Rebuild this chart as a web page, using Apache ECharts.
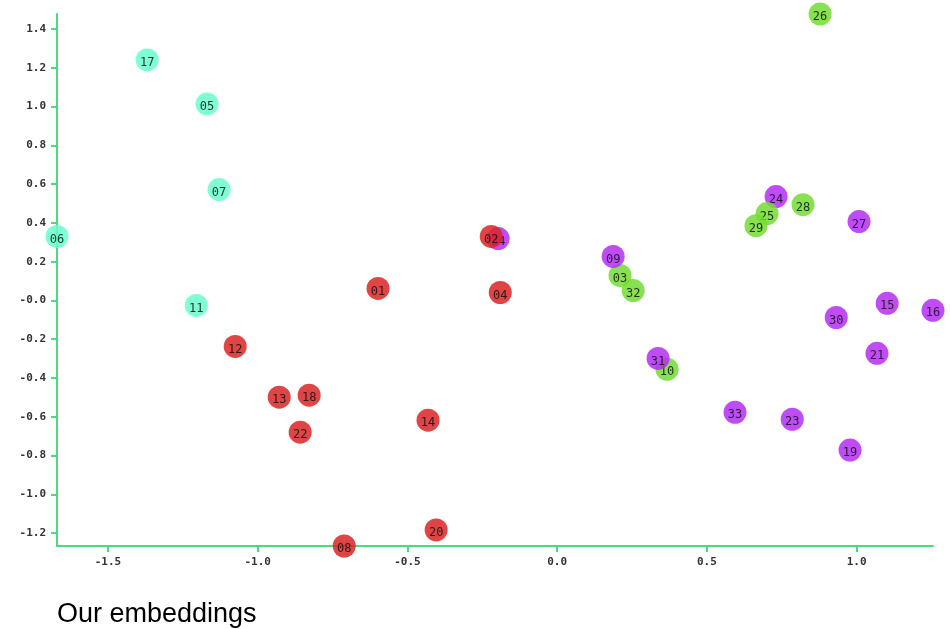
<!DOCTYPE html>
<html>
<head>
<meta charset="utf-8">
<title>Our embeddings</title>
<script src="https://cdn.jsdelivr.net/npm/echarts@6/dist/echarts.min.js"></script>
<style>
  html, body { margin: 0; padding: 0; background: #fff; }
  #chart { width: 950px; height: 629px; }
</style>
</head>
<body>
<div id="chart"></div>
<script>
// Node labels, listed in drawing order (later nodes are painted on top).
const nodeIds = ['34', '01', '02', '03', '04', '05', '06', '07', '08', '09', '10', '11',
  '12', '13', '14', '15', '16', '17', '18', '19', '20', '21', '22', '23', '24',
  '25', '26', '27', '28', '29', '30', '31', '32', '33'];

// 2-D embedding coordinates of each node.
const xValues = [-0.197, -0.598, -0.220, 0.210, -0.190, -1.169, -1.670, -1.129, -0.711, 0.187, 0.367, -1.205,
  -1.075, -0.928, -0.431, 1.102, 1.255, -1.369, -0.828, 0.978, -0.404, 1.068, -0.858, 0.785, 0.731,
  0.701, 0.878, 1.008, 0.821, 0.664, 0.932, 0.337, 0.254, 0.594];
const yValues = [0.319, 0.062, 0.330, 0.129, 0.041, 1.014, 0.330, 0.572, -1.267, 0.227, -0.355, -0.026,
  -0.237, -0.499, -0.618, -0.015, -0.051, 1.241, -0.489, -0.772, -1.184, -0.273, -0.680, -0.613, 0.536,
  0.448, 1.478, 0.407, 0.494, 0.386, -0.088, -0.299, 0.051, -0.577];

// Community of each node (index into communityColors).
const communities = [3, 1, 1, 2, 1, 0, 0, 0, 1, 3, 2, 0,
  1, 1, 1, 3, 3, 0, 1, 3, 1, 3, 1, 3, 3,
  2, 2, 3, 2, 2, 3, 3, 2, 3];

const communityColors = ['#69ffcd', '#db2525', '#72dc31', '#b52df6'];

const axisColor = '#4fd882';
const monoFont = '"DejaVu Sans Mono", "Liberation Mono", monospace';

const chart = echarts.init(document.getElementById('chart'), null, { renderer: 'canvas' });

// One series per node so each circle and its label stack together.
const series = nodeIds.map((id, i) => ({
  type: 'scatter',
  name: id,
  z: 2 + i,
  symbol: 'circle',
  symbolSize: 23,
  silent: true,
  data: [[xValues[i], yValues[i]]],
  itemStyle: { color: communityColors[communities[i]], opacity: 0.85 },
  label: {
    show: true,
    position: 'inside',
    offset: [0, 3],
    formatter: id,
    fontFamily: monoFont,
    fontSize: 12,
    color: '#111'
  }
}));

const axisCommon = {
  type: 'value',
  min: v => v.min,
  max: v => v.max,
  splitLine: { show: false },
  axisLine: { show: true, onZero: false, lineStyle: { color: axisColor, width: 2 } },
  axisTick: { show: true, interval: 0, length: 6, lineStyle: { color: axisColor, width: 2 } },
  axisLabel: {
    show: true,
    interval: 0,
    margin: 11,
    showMinLabel: false,
    showMaxLabel: false,
    fontFamily: monoFont,
    fontWeight: 'bold',
    fontSize: 11,
    color: '#333'
  }
};

chart.setOption({
  animation: false,
  backgroundColor: '#fff',
  title: {
    text: 'Our embeddings',
    left: 57,
    top: 601,
    padding: 0,
    textStyle: { fontFamily: '"Liberation Sans", Arial, sans-serif', fontSize: 27, fontWeight: 'normal', color: '#000' }
  },
  grid: { left: 57, right: 17, top: 14, bottom: 83, containLabel: false, outerBoundsMode: 'none' },
  xAxis: Object.assign({}, axisCommon, {
    splitNumber: 6,
    axisLabel: Object.assign({}, axisCommon.axisLabel, {
      formatter: v => v.toFixed(1)
    })
  }),
  yAxis: Object.assign({}, axisCommon, {
    splitNumber: 13,
    axisLabel: Object.assign({}, axisCommon.axisLabel, {
      formatter: v => (Math.abs(v) < 1e-9 ? '-0.0' : v.toFixed(1))
    })
  }),
  series: series
});
</script>
</body>
</html>
